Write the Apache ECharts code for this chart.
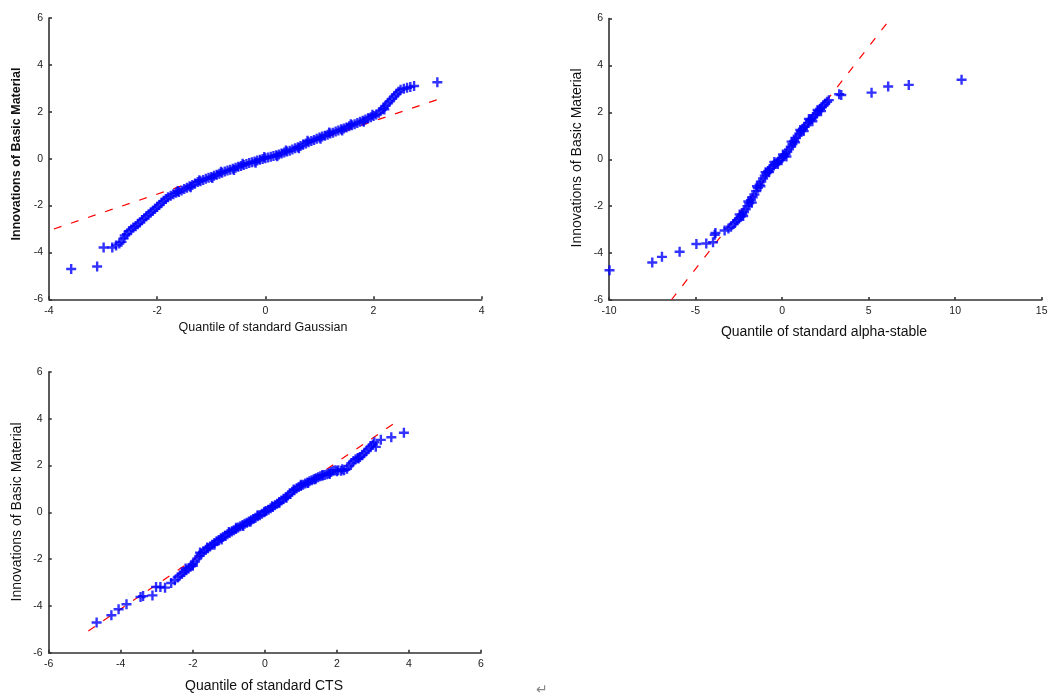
<!DOCTYPE html>
<html>
<head>
<meta charset="utf-8">
<script src="https://cdn.jsdelivr.net/npm/echarts@6/dist/echarts.min.js"></script>
<style>
html,body{margin:0;padding:0;background:#fff;}
#chart{width:1053px;height:700px;}
</style>
</head>
<body>
<div id="chart"></div>
<script>
// ---- Data ----
const gaussTicksX = [-4, -2, 0, 2, 4];
const stableTicksX = [-10, -5, 0, 5, 10, 15];
const ctsTicksX = [-6, -4, -2, 0, 2, 4, 6];
const yTicks = [-6, -4, -2, 0, 2, 4, 6];

const gaussPoints = [
[-3.59,-4.71],[-3.11,-4.60],[-2.99,-3.79],[-2.83,-3.79],[-2.76,-3.70],[-2.70,-3.62],[-2.66,-3.55],[-2.62,-3.40],[-2.60,-3.28],[-2.56,-3.22],[-2.52,-3.10],[-2.48,-3.02],[-2.44,-2.94],[-2.40,-2.88],[-2.36,-2.80],[-2.32,-2.72],[-2.28,-2.62],[-2.24,-2.55],[-2.20,-2.46],[-2.16,-2.38],[-2.12,-2.30],[-2.08,-2.22],[-2.04,-2.14],[-2.00,-2.06],[-1.96,-1.98],[-1.92,-1.88],[-1.88,-1.80],[-1.84,-1.72],[-1.80,-1.65],[-1.75,-1.58],[-1.70,-1.52],[-1.65,-1.46],[-1.60,-1.42],[-1.55,-1.36],[-1.50,-1.30],[-1.45,-1.24],[-1.40,-1.18],[-1.35,-1.12],[-1.30,-1.06],[-1.25,-1.00],[-1.20,-0.96],[-1.15,-0.91],[-1.10,-0.86],[-1.05,-0.82],[-1.00,-0.78],[-0.95,-0.73],[-0.90,-0.69],[-0.85,-0.64],[-0.80,-0.60],[-0.75,-0.55],[-0.70,-0.51],[-0.65,-0.47],[-0.60,-0.43],[-0.55,-0.39],[-0.50,-0.35],[-0.45,-0.31],[-0.40,-0.27],[-0.35,-0.23],[-0.30,-0.19],[-0.25,-0.15],[-0.20,-0.12],[-0.15,-0.08],[-0.10,-0.05],[-0.05,-0.01],[0.00,0.02],[0.05,0.05],[0.10,0.08],[0.15,0.11],[0.20,0.15],[0.25,0.18],[0.30,0.22],[0.35,0.26],[0.40,0.30],[0.45,0.34],[0.50,0.39],[0.55,0.44],[0.60,0.49],[0.65,0.54],[0.70,0.60],[0.75,0.65],[0.80,0.70],[0.85,0.75],[0.90,0.80],[0.95,0.85],[1.00,0.90],[1.05,0.94],[1.10,0.98],[1.15,1.02],[1.20,1.07],[1.25,1.11],[1.30,1.16],[1.35,1.20],[1.40,1.25],[1.45,1.29],[1.50,1.33],[1.55,1.38],[1.60,1.42],[1.65,1.47],[1.70,1.52],[1.75,1.57],[1.80,1.62],[1.85,1.67],[1.90,1.72],[1.95,1.77],[2.00,1.82],[2.05,1.88],[2.10,1.96],[2.14,2.05],[2.18,2.15],[2.22,2.25],[2.26,2.35],[2.30,2.45],[2.34,2.55],[2.38,2.65],[2.42,2.75],[2.46,2.85],[2.50,2.94],[2.56,2.98],[2.62,3.02],[2.68,3.06],[2.75,3.10],[3.18,3.26],
[-1.62,-1.38],[-1.22,-0.92],[-0.82,-0.56],[-0.42,-0.22],[-0.02,0.07],[0.38,0.35],[0.78,0.76],[1.18,1.12],[1.58,1.47],[1.98,1.87],
[-1.38,-1.22],[-0.98,-0.83],[-0.58,-0.48],[-0.18,-0.17],[0.22,0.10],[0.62,0.44],[1.02,0.85],[1.42,1.20],[1.82,1.57],[2.20,2.10]
];
const gaussLine = [[-3.91,-3.00],[3.21,2.54]];

const stablePoints = [
[-9.97,-4.73],[-7.50,-4.40],[-6.94,-4.16],[-5.92,-3.94],[-4.95,-3.61],[-4.38,-3.59],[-3.99,-3.54],[-3.89,-3.22],[-3.85,-3.14],[-3.32,-3.04],[-3.10,-2.95],[-2.95,-2.88],[-2.80,-2.76],[-2.70,-2.68],[-2.60,-2.60],[-2.50,-2.53],[-2.40,-2.45],[-2.30,-2.35],[-2.20,-2.25],[-2.10,-2.13],[-2.00,-2.00],[-1.90,-1.88],[-1.80,-1.75],[-1.70,-1.62],[-1.60,-1.50],[-1.50,-1.36],[-1.40,-1.22],[-1.30,-1.08],[-1.20,-0.95],[-1.10,-0.82],[-1.00,-0.70],[-0.90,-0.60],[-0.80,-0.50],[-0.70,-0.42],[-0.60,-0.35],[-0.50,-0.27],[-0.40,-0.20],[-0.30,-0.14],[-0.20,-0.08],[-0.10,-0.02],[0.00,0.05],[0.10,0.13],[0.20,0.22],[0.30,0.32],[0.40,0.42],[0.50,0.53],[0.60,0.65],[0.70,0.78],[0.80,0.90],[0.90,1.00],[1.00,1.10],[1.10,1.20],[1.20,1.30],[1.30,1.38],[1.40,1.45],[1.50,1.55],[1.60,1.65],[1.70,1.72],[1.80,1.80],[1.90,1.88],[2.00,1.95],[2.10,2.05],[2.20,2.15],[2.30,2.22],[2.40,2.30],[2.50,2.38],[2.60,2.45],[2.70,2.52],[3.30,2.77],[3.42,2.74],[5.17,2.84],[6.13,3.10],[7.32,3.17],[10.37,3.39],
[-2.45,-2.35],[-1.95,-1.80],[-1.45,-1.15],[-0.95,-0.55],[-0.45,-0.12],[0.05,0.20],[0.55,0.75],[1.05,1.25],[1.55,1.72],[2.05,2.10],
[-2.25,-2.42],[-1.75,-1.85],[-1.25,-1.15],[-0.75,-0.55],[-0.25,-0.20],[0.25,0.12],[0.75,0.72],[1.25,1.20],[1.75,1.62],[2.25,2.05]
];
const stableLine = [[-6.40,-6.00],[6.23,5.96]];

const ctsPoints = [
[-4.67,-4.71],[-4.26,-4.40],[-4.06,-4.14],[-3.84,-3.93],[-3.45,-3.62],[-3.38,-3.58],[-3.12,-3.55],[-3.02,-3.19],[-2.90,-3.19],[-2.77,-3.22],[-2.60,-3.02],[-2.50,-2.90],[-2.42,-2.78],[-2.36,-2.70],[-2.30,-2.62],[-2.24,-2.55],[-2.18,-2.48],[-2.12,-2.40],[-2.06,-2.32],[-2.00,-2.22],[-1.94,-2.10],[-1.88,-1.98],[-1.82,-1.86],[-1.76,-1.76],[-1.70,-1.68],[-1.64,-1.60],[-1.58,-1.53],[-1.52,-1.46],[-1.46,-1.39],[-1.40,-1.31],[-1.34,-1.24],[-1.28,-1.18],[-1.22,-1.11],[-1.16,-1.05],[-1.10,-1.00],[-1.04,-0.94],[-0.98,-0.88],[-0.92,-0.82],[-0.86,-0.76],[-0.80,-0.71],[-0.74,-0.65],[-0.68,-0.59],[-0.62,-0.54],[-0.56,-0.49],[-0.50,-0.44],[-0.44,-0.39],[-0.38,-0.34],[-0.32,-0.28],[-0.26,-0.23],[-0.20,-0.17],[-0.14,-0.12],[-0.08,-0.06],[-0.02,0.00],[0.04,0.06],[0.10,0.11],[0.16,0.17],[0.22,0.23],[0.28,0.30],[0.34,0.37],[0.40,0.44],[0.46,0.51],[0.52,0.58],[0.58,0.65],[0.64,0.72],[0.70,0.80],[0.76,0.88],[0.82,0.95],[0.88,1.02],[0.94,1.08],[1.00,1.13],[1.06,1.18],[1.12,1.23],[1.18,1.28],[1.24,1.33],[1.30,1.37],[1.36,1.42],[1.42,1.46],[1.48,1.50],[1.54,1.54],[1.60,1.57],[1.66,1.60],[1.72,1.63],[1.78,1.67],[1.84,1.72],[1.90,1.78],[1.96,1.80],[2.04,1.80],[2.12,1.78],[2.20,1.80],[2.28,1.86],[2.34,1.98],[2.40,2.10],[2.46,2.20],[2.52,2.27],[2.58,2.32],[2.64,2.37],[2.70,2.44],[2.76,2.53],[2.82,2.62],[2.88,2.72],[2.94,2.82],[3.00,2.90],[3.04,3.00],[3.08,2.80],[3.22,3.10],[3.51,3.21],[3.86,3.40],
[-2.20,-2.40],[-1.80,-1.72],[-1.40,-1.38],[-1.00,-0.84],[-0.60,-0.58],[-0.20,-0.12],[0.20,0.26],[0.60,0.62],[1.00,1.18],[1.40,1.42],[1.80,1.64],[2.15,1.84],
[-2.00,-2.28],[-1.60,-1.50],[-1.20,-1.16],[-0.80,-0.66],[-0.40,-0.40],[0.00,0.04],[0.40,0.40],[0.80,0.98],[1.20,1.25],[1.60,1.60],[2.00,1.76],[2.60,2.30]
];
const ctsLine = [[-4.90,-5.07],[3.71,3.93]];

const yName = 'Innovations of Basic Material';
const xNames = ['Quantile of standard Gaussian', 'Quantile of standard alpha-stable', 'Quantile of standard CTS'];

// ---- Styling / layout ----
const FONT = '"Liberation Sans", Arial, sans-serif';
const PLUS = 'path://M3.8,0H6.2V3.8H10V6.2H6.2V10H3.8V6.2H0V3.8H3.8Z';
const axisLineStyle = { color: '#333', width: 1.6 };

function xAxisDef(idx, ticks) {
  return {
    gridIndex: idx, type: 'value',
    min: ticks[0], max: ticks[ticks.length - 1], interval: ticks[1] - ticks[0],
    axisLine: { show: true, onZero: false, lineStyle: axisLineStyle },
    axisTick: { show: true, inside: true, length: 3, lineStyle: axisLineStyle },
    axisLabel: { color: '#222', fontSize: 10.5, fontFamily: FONT, margin: 6 },
    splitLine: { show: false }
  };
}
function yAxisDef(idx) {
  return {
    gridIndex: idx, type: 'value',
    min: yTicks[0], max: yTicks[yTicks.length - 1], interval: yTicks[1] - yTicks[0],
    axisLine: { show: true, onZero: false, lineStyle: axisLineStyle },
    axisTick: { show: true, inside: true, length: 3, lineStyle: axisLineStyle },
    axisLabel: { color: '#222', fontSize: 10.5, fontFamily: FONT, margin: 6 },
    splitLine: { show: false }
  };
}
function pts(idx, data) {
  return {
    type: 'scatter', xAxisIndex: idx, yAxisIndex: idx, data: data,
    symbol: PLUS, symbolSize: 10, itemStyle: { color: '#0000ff' },
    silent: true, z: 3, animation: false
  };
}
function refLine(idx, data) {
  return {
    type: 'line', xAxisIndex: idx, yAxisIndex: idx, data: data,
    showSymbol: false, symbol: 'none', clip: true,
    lineStyle: { color: '#ff0000', width: 1.2, type: [8, 10] },
    silent: true, z: 2, animation: false
  };
}
function label(text, x, y, size, rot, weight) {
  return {
    type: 'text', x: x, y: y, rotation: rot || 0,
    style: { text: text, fill: '#111', font: (weight || 'normal') + ' ' + size + 'px ' + FONT,
             textAlign: 'center', textVerticalAlign: 'middle' }
  };
}

const chart = echarts.init(document.getElementById('chart'), null, { renderer: 'canvas' });
chart.setOption({
  backgroundColor: '#ffffff',
  animation: false,
  grid: [
    { left: 49, top: 18, width: 432.7, height: 281.3 },
    { left: 609, top: 18.5, width: 432.7, height: 281.5 },
    { left: 48.7, top: 372, width: 432.3, height: 280.7 }
  ],
  xAxis: [xAxisDef(0, gaussTicksX), xAxisDef(1, stableTicksX), xAxisDef(2, ctsTicksX)],
  yAxis: [yAxisDef(0), yAxisDef(1), yAxisDef(2)],
  series: [
    pts(0, gaussPoints), refLine(0, gaussLine),
    pts(1, stablePoints), refLine(1, stableLine),
    pts(2, ctsPoints), refLine(2, ctsLine)
  ],
  graphic: [
    label(xNames[0], 263, 328, 12.5),
    label(xNames[1], 824, 332, 14),
    label(xNames[2], 264, 686, 14),
    label(yName, 17, 154, 12.5, Math.PI / 2, 'bold'),
    label(yName, 577, 158, 14, Math.PI / 2),
    label(yName, 17, 512, 14, Math.PI / 2),
    { type: 'text', x: 542, y: 690,
      style: { text: '\u21B5', fill: '#888', font: '14px ' + FONT, textAlign: 'center', textVerticalAlign: 'middle' } }
  ]
});
</script>
</body>
</html>
